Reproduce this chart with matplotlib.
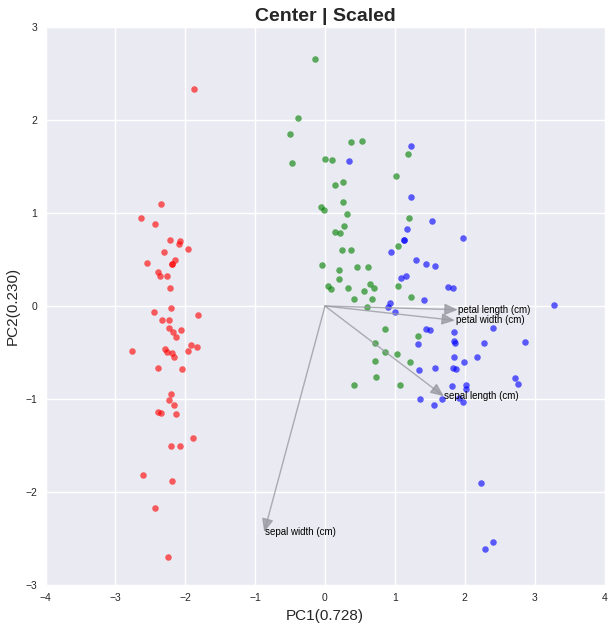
import matplotlib
matplotlib.use("Agg")
import matplotlib.pyplot as plt

plt.rcParams["font.family"] = ["Liberation Sans", "DejaVu Sans"]

# PCA scores (PC1, PC2)
setosa_x = [-1.869, -2.34, -2.636, -2.436, -2.221, -2.074, -2.089, -1.960, -2.303, -2.554,
            -2.146, -2.189, -2.189, -2.393, -2.364, -2.264, -2.212,
            -2.207, -2.446, -1.821, -2.326, -2.226, -2.231, -2.055, -2.169, -2.136, -1.917,
            -1.831, -2.288, -2.769, -2.264, -2.189, -1.964, -2.164, -2.388, -2.045, -2.207,
            -2.226, -2.160, -2.383, -2.340, -2.131, -1.893, -2.202, -2.074, -2.607, -2.193,
            -2.431, -2.25]
setosa_y = [2.329, 1.10, 0.946, 0.885, 0.713, 0.695, 0.663, 0.613, 0.580, 0.462,
            0.490, 0.455, 0.455, 0.369, 0.326, 0.322, 0.189,
            -0.026, -0.068, -0.097, -0.151, -0.155, -0.241, -0.258, -0.284, -0.330, -0.419,
            -0.438, -0.459, -0.481, -0.499, -0.505, -0.488, -0.545, -0.667, -0.677, -0.943,
            -1.015, -1.061, -1.140, -1.147, -1.161, -1.419, -1.502, -1.505, -1.814, -1.878,
            -2.172, -2.703]

versicolor_x = [-0.136, -0.383, -0.507, 0.379, 0.536, 1.193, -0.469, -0.003, 0.107, 1.011,
                0.140, 0.254, 0.254, -0.064, -0.011, 0.311, 1.207, 0.269,
                0.136, 0.221, 1.040, 0.240, 0.369, -0.05, 0.454, 0.611, 0.207, 0.207,
                0.05, 0.079, 0.336, 0.645, 0.698, 0.555, 1.050, 0.421, 0.679, 1.231, 0.607,
                0.855, 1.331, 0.721, 0.855, 1.031, 0.712, 1.217, 0.731, 0.412, 1.079]
versicolor_y = [2.656, 2.017, 1.849, 1.759, 1.774, 1.634, 1.541, 1.576, 1.566, 1.398,
                1.304, 1.333, 1.121, 1.065, 1.035, 0.992, 0.946, 0.860,
                0.796, 0.781, 0.641, 0.602, 0.598, 0.437, 0.423, 0.423, 0.387, 0.290,
                0.218, 0.183, 0.197, 0.232, 0.194, 0.161, 0.218, 0.071, 0.075, 0.092, -0.015,
                -0.244, -0.319, -0.395, -0.498, -0.513, -0.588, -0.602, -0.767, -0.846, -0.853]

virginica_x = [1.231, 0.340, 1.231, 1.174,
               1.536, 1.131, 1.131, 1.974, 0.950, 1.307, 1.440, 1.574, 1.155, 1.088, 1.760,
               1.836, 1.417, 0.936, 0.907,
               0.998, 1.446, 1.497, 1.840, 1.840, 1.860, 1.326, 1.840, 1.988, 2.179, 1.340,
               1.569, 1.826, 1.874, 1.821, 2.011, 2.011, 1.355, 1.679, 1.555, 1.912, 1.974,
               3.274, 2.402, 2.274, 2.864, 2.721, 2.764,
               2.236, 2.407, 2.283]
virginica_y = [1.720, 1.562, 1.172, 0.831,
               0.910, 0.706, 0.706, 0.727, 0.577, 0.495, 0.452, 0.433, 0.326, 0.301, 0.204,
               0.194, 0.060, 0.028, -0.008,
               -0.061, -0.244, -0.262, -0.283, -0.373, -0.402, -0.413, -0.549, -0.599, -0.549, -0.685,
               -0.667, -0.663, -0.677, -0.864, -0.853, -0.896, -1.004, -1.0, -1.061, -0.989, -1.037,
               0.011, -0.237, -0.398, -0.387, -0.778, -0.835,
               -1.907, -2.542, -2.610]

# loading arrows (tip positions) and their labels
features = ["sepal length (cm)", "sepal width (cm)", "petal length (cm)", "petal width (cm)"]
arrow_x = [1.70, -0.87, 1.90, 1.86]
arrow_y = [-0.97, -2.43, -0.04, -0.155]

fig = plt.figure(figsize=(6.12, 6.27), dpi=100)
ax = fig.add_axes([45.5 / 612, 1 - 585 / 627, 559 / 612, 558 / 627])
ax.set_facecolor("#EAEAF2")
ax.grid(True, color="white", linewidth=1)
ax.set_axisbelow(True)
for s in ax.spines.values():
    s.set_visible(False)
ax.tick_params(length=0, labelsize=7.5, pad=6, colors="#262626")

ax.scatter(setosa_x, setosa_y, c="r", s=22, alpha=0.62, linewidths=0)
ax.scatter(versicolor_x, versicolor_y, c="g", s=22, alpha=0.62, linewidths=0)
ax.scatter(virginica_x, virginica_y, c="b", s=22, alpha=0.62, linewidths=0)

for name, ex, ey in zip(features, arrow_x, arrow_y):
    ax.annotate("", xy=(ex, ey), xytext=(0, 0),
                arrowprops=dict(arrowstyle="-|>,head_length=0.8,head_width=0.35",
                                color="#9a9aa2", alpha=0.8, lw=1, shrinkA=0, shrinkB=0))
    ax.text(ex + 0.01, ey, name, fontsize=7, color="black", ha="left", va="center")

ax.set_xlim(-4, 4)
ax.set_ylim(-3, 3)
ax.set_xlabel("PC1(0.728)", fontsize=11, color="#262626")
ax.set_ylabel("PC2(0.230)", fontsize=11, color="#262626")
ax.set_title("Center | Scaled", fontsize=14, fontweight="bold", color="#262626", pad=4)

fig.savefig("out.png", dpi=100)
